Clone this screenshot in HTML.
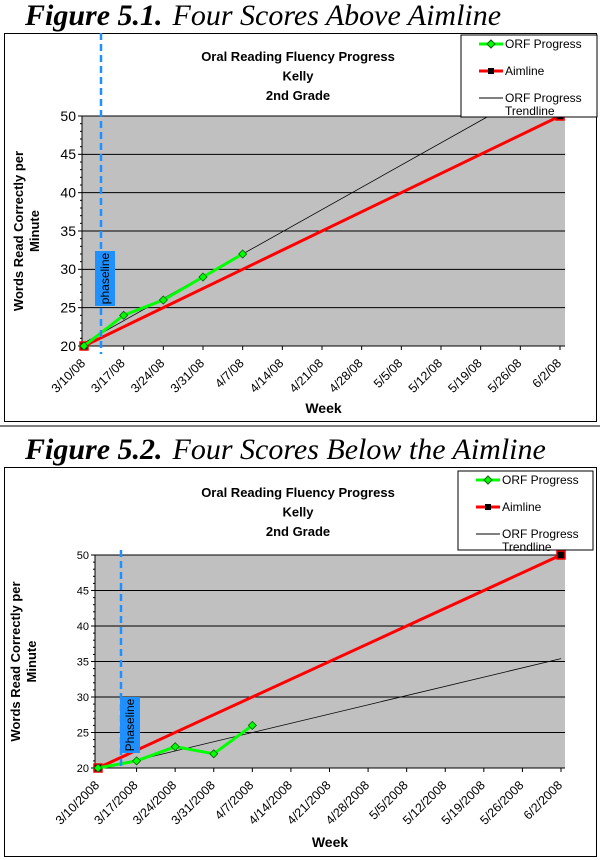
<!DOCTYPE html>
<html><head><meta charset="utf-8">
<style>
html,body{margin:0;padding:0;background:#fff;}
svg{display:block;font-family:"Liberation Sans",Arial,sans-serif;}
.fig{font-family:"Liberation Serif",serif;font-size:30px;}
</style></head>
<body>
<svg id="s" width="600" height="860" viewBox="0 0 600 860" xmlns="http://www.w3.org/2000/svg">
<text class="fig" x="25" y="25"><tspan font-weight="bold" font-style="italic">Figure 5.1.</tspan><tspan font-style="italic" dx="10">Four Scores Above Aimline</tspan></text>
<rect x="4.5" y="33.5" width="592" height="388" fill="none" stroke="#000"/>
<line x1="0" y1="426" x2="600" y2="426" stroke="#000"/>
<text class="fig" x="25" y="459"><tspan font-weight="bold" font-style="italic">Figure 5.2.</tspan><tspan font-style="italic" dx="10">Four Scores Below the Aimline</tspan></text>
<rect x="4.5" y="467.5" width="592" height="389" fill="none" stroke="#000"/>
<g id="c1"></g><g id="c2"></g>
</svg>
<script>
const weeks1 = ["3/10/08","3/17/08","3/24/08","3/31/08","4/7/08","4/14/08","4/21/08","4/28/08","5/5/08","5/12/08","5/19/08","5/26/08","6/2/08"];
const weeks2 = ["3/10/2008","3/17/2008","3/24/2008","3/31/2008","4/7/2008","4/14/2008","4/21/2008","4/28/2008","5/5/2008","5/12/2008","5/19/2008","5/26/2008","6/2/2008"];
const yTicks = [20,25,30,35,40,45,50];
const orf1 = [20,24,26,29,32];
const orf2 = [20,21,23,22,26];
const aim1 = [20,50];
const aim2 = [20,50];
const NS="http://www.w3.org/2000/svg";
function mk(p,tag,a){const e=document.createElementNS(NS,tag);for(const k in a)e.setAttribute(k,a[k]);p.appendChild(e);return e;}
function draw(g,cfg){
  const {px0,px1,py0,py1,xs,xe,labels,orf,aim,phx,phy0,phbox,phText,legend,titleY,ytf,xtf,weekY,ylabX,xlo} = cfg;
  const n=labels.length;
  const X=i=>xs+(xe-xs)*i/(n-1);
  const Y=v=>py1-(py1-py0)*(v-20)/30;
  let r=mk(g,'rect',{x:px0,y:py0,width:px1-px0,height:py1-py0,fill:'#c0c0c0'});
  
  yTicks.forEach(v=>{
    if(v>20){let l=mk(g,'line',{x1:px0,x2:px1,y1:Y(v),y2:Y(v),stroke:'#000','stroke-width':1});
    }
    let t=mk(g,'text',{x:px0-6,y:Y(v)+ytf*0.35,'text-anchor':'end','font-size':ytf});
    t.textContent=v;
  });
  for(let v=20;v<=50;v++){mk(g,'line',{x1:px0-(v%5?2:4),x2:px0,y1:Y(v),y2:Y(v),stroke:'#000'});}
  mk(g,'line',{x1:px0,x2:px0,y1:py0,y2:py1,stroke:'#000'});
  mk(g,'line',{x1:px0,x2:px1,y1:py1,y2:py1,stroke:'#000'});
  labels.forEach((lb,i)=>{
    mk(g,'line',{x1:X(i),x2:X(i),y1:py1,y2:py1+4,stroke:'#000'});
    let t=mk(g,'text',{x:X(i)+2,y:py1+xlo,'text-anchor':'end','font-size':xtf,transform:`rotate(-45 ${X(i)+2} ${py1+xlo})`});
    t.textContent=lb;
  });
  const m=orf.length;let mx=(m-1)/2,my=orf.reduce((a,b)=>a+b,0)/m,sxy=0,sxx=0;
  orf.forEach((v,i)=>{sxy+=(i-mx)*(v-my);sxx+=(i-mx)*(i-mx);});
  const sl=sxy/sxx,ic=my-sl*mx;let xEnd=n-1;
  if(ic+sl*xEnd>50)xEnd=(50-ic)/sl;
  let tl=mk(g,'line',{x1:X(0),y1:Y(ic),x2:X(xEnd),y2:Y(ic+sl*xEnd),stroke:'#000','stroke-width':0.8});
  
  let al=mk(g,'line',{x1:X(0),y1:Y(aim[0]),x2:X(n-1),y2:Y(aim[1]),stroke:'#ff0000','stroke-width':3});
  
  [[0,aim[0]],[n-1,aim[1]]].forEach(([i,v])=>{
    let q=mk(g,'rect',{x:X(i)-4,y:Y(v)-4,width:8,height:8,fill:'#000',stroke:'#ff0000','stroke-width':1.5});
    });
  let pl=mk(g,'polyline',{points:orf.map((v,i)=>X(i)+','+Y(v)).join(' '),fill:'none',stroke:'#00ff00','stroke-width':3});
  
  orf.forEach((v,i)=>{let d=mk(g,'polygon',{points:`${X(i)},${Y(v)-4} ${X(i)+4},${Y(v)} ${X(i)},${Y(v)+4} ${X(i)-4},${Y(v)}`,fill:'#00ff00',stroke:'#006000','stroke-width':0.8});
    });
  let ph=mk(g,'line',{x1:phx,x2:phx,y1:phy0,y2:py1+(cfg.phExt||0),stroke:'#1e90ff','stroke-width':2.5,'stroke-dasharray':'7,4'});
  
  let pb=mk(g,'rect',{x:phbox[0],y:phbox[1],width:phbox[2],height:phbox[3],fill:'#1e90ff'});
  
  const cx=phbox[0]+phbox[2]/2+4,cy=phbox[1]+phbox[3]/2;
  let pt=mk(g,'text',{x:cx,y:cy,'text-anchor':'middle','font-size':12,transform:`rotate(-90 ${cx} ${cy})`});
  pt.textContent=phText;
  ["Oral Reading Fluency Progress","Kelly","2nd Grade"].forEach((s,i)=>{
    let t=mk(g,'text',{x:298,y:titleY+i*19.5,'text-anchor':'middle','font-size':13,'font-weight':'bold'});
    t.textContent=s;});
  let yl=mk(g,'text',{'text-anchor':'middle','font-size':13,'font-weight':'bold',transform:`translate(${ylabX} ${(py0+py1)/2}) rotate(-90)`});
  
  let a=mk(yl,'tspan',{x:0,y:0});a.textContent='Words Read Correctly per';
  let b=mk(yl,'tspan',{x:0,y:16});b.textContent='Minute';
  let wk=mk(g,'text',{x:(px0+px1)/2,y:weekY,'text-anchor':'middle','font-size':14,'font-weight':'bold'});
  wk.textContent='Week';
  const [lx,ly,lw,lh]=legend;
  let lg=mk(g,'rect',{x:lx,y:ly,width:lw,height:lh,fill:'#fff',stroke:'#000'});
  
  const rows=[['ORF Progress','g'],['Aimline','r'],['ORF Progress','k']];
  rows.forEach(([s,c],i)=>{
    const yy=ly+9+i*27;
    mk(g,'line',{x1:lx+18,x2:lx+42,y1:yy,y2:yy,stroke:c=='g'?'#00ff00':c=='r'?'#ff0000':'#000','stroke-width':c=='k'?1:3});
    if(c=='g')mk(g,'polygon',{points:`${lx+30},${yy-4} ${lx+34},${yy} ${lx+30},${yy+4} ${lx+26},${yy}`,fill:'#00ff00',stroke:'#006000'});
    if(c=='r')mk(g,'rect',{x:lx+27,y:yy-3,width:6,height:6,fill:'#000'});
    let t=mk(g,'text',{x:lx+44,y:yy+4,'font-size':12});t.textContent=s;
    
    if(c=='k'){let t2=mk(g,'text',{x:lx+44,y:yy+17,'font-size':12});t2.textContent='Trendline';}
  });
}
draw(document.getElementById('c1'),{px0:82,px1:565,py0:116,py1:346,xs:84,xe:560,labels:weeks1,orf:orf1,aim:aim1,
 phx:101,phy0:33,phExt:8,phbox:[95,251,20,55],phText:'phaseline',legend:[461,35,136,82],titleY:61,ytf:14,xtf:12.5,weekY:413,ylabX:23,xlo:18});
draw(document.getElementById('c2'),{px0:95,px1:565,py0:555,py1:768,xs:98,xe:561,labels:weeks2,orf:orf2,aim:aim2,
 phx:121,phy0:550,phbox:[120,697,20,56],phText:'Phaseline',legend:[458,471,135,79],titleY:497,ytf:11,xtf:12.5,weekY:847,ylabX:20,xlo:18});
</script>
</body></html>
